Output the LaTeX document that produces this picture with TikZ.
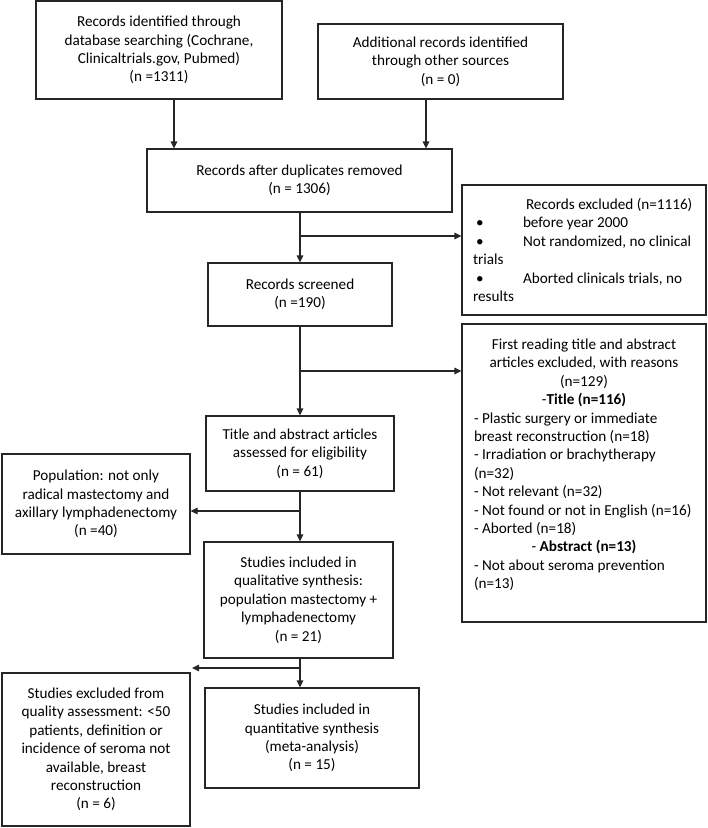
\documentclass[tikz,border=0pt]{standalone}
\usepackage{fontspec}
\setmainfont{Carlito}
\usetikzlibrary{arrows.meta,calc}
\begin{document}
\begin{tikzpicture}[x=1pt,y=-1pt,
  box/.style={draw=black!85, line width=1.1pt, rectangle, inner sep=0pt,
    font=\fontsize{15.2pt}{18.4pt}\selectfont, text=black},
  cbox/.style={box, align=center},
  lbox/.style={box, align=left},
  arr/.style={draw=black!85, line width=1.1pt, -{Triangle[length=7pt,width=6.5pt]}},
  ln/.style={draw=black!85, line width=1.1pt}]
\useasboundingbox (0,0) rectangle (708,828);

\node[cbox, minimum width=246pt, minimum height=98pt] (B1) at (159,50)
  {Records identified through\\database searching (Cochrane,\\Clinicaltrials.gov, Pubmed)\\(n =1311)};
\node[cbox, minimum width=245pt, minimum height=75pt] (B2) at (440.5,61.5)
  {Additional records identified\\through other sources\\(n = 0)};
\node[cbox, minimum width=305pt, minimum height=63pt] (B3) at (299.5,180.5)
  {Records after duplicates removed\\(n = 1306)};
\node[lbox, minimum width=244pt, minimum height=130pt] (B4) at (584,250)
  {\makebox[222pt][l]{\hspace*{53pt}Records excluded (n=1116)}\\
   \makebox[222pt][l]{\makebox[50pt][l]{\hspace*{3pt}•}before year 2000}\\
   \makebox[222pt][l]{\makebox[50pt][l]{\hspace*{3pt}•}Not randomized, no clinical}\\
   \makebox[222pt][l]{trials}\\
   \makebox[222pt][l]{\makebox[50pt][l]{\hspace*{3pt}•}Aborted clinicals trials, no}\\
   \makebox[222pt][l]{results}};
\node[cbox, minimum width=184pt, minimum height=63pt] (B5) at (300,294.5)
  {Records screened\\(n =190)};
\node[cbox, minimum width=188pt, minimum height=75pt] (B6) at (300,453.5)
  {Title and abstract articles\\assessed for eligibility\\(n = 61)};
\node[lbox, minimum width=244pt, minimum height=298pt] (B7) at (584,473)
  {\makebox[220pt][c]{First reading title and abstract}\\
   \makebox[220pt][c]{articles excluded, with reasons}\\
   \makebox[220pt][c]{(n=129)}\\
   \makebox[220pt][c]{-\textbf{Title (n=116)}}\\
   \makebox[220pt][l]{- Plastic surgery or immediate}\\
   \makebox[220pt][l]{breast reconstruction (n=18)}\\
   \makebox[220pt][l]{- Irradiation or brachytherapy}\\
   \makebox[220pt][l]{(n=32)}\\
   \makebox[220pt][l]{- Not relevant (n=32)}\\
   \makebox[220pt][l]{- Not found or not in English (n=16)}\\
   \makebox[220pt][l]{- Aborted (n=18)}\\
   \makebox[220pt][c]{- \textbf{Abstract (n=13)}}\\
   \makebox[220pt][l]{- Not about seroma prevention}\\
   \makebox[220pt][l]{(n=13)}\\
   \mbox{}};
\node[cbox, minimum width=188pt, minimum height=100pt] (B8) at (96,504)
  {Population: not only\\radical mastectomy and\\axillary lymphadenectomy\\(n =40)};
\node[cbox, minimum width=189pt, minimum height=116pt] (B9) at (298.5,600)
  {Studies included in\\qualitative synthesis:\\population mastectomy +\\lymphadenectomy\\(n = 21)};
\node[cbox, minimum width=214pt, minimum height=100pt] (B10) at (312,738)
  {Studies included in\\quantitative synthesis\\(meta-analysis)\\(n = 15)};
\node[cbox, minimum width=188pt, minimum height=153pt] (B11) at (96,749.5)
  {Studies excluded from\\quality assessment: <50\\patients, definition or\\incidence of seroma not\\available, breast\\reconstruction\\(n = 6)};

\coordinate (x1) at (174,0);
\coordinate (x2) at (426,0);
\coordinate (xc) at (300,0);
\coordinate (j1) at (300,236);
\coordinate (j2) at (300,371);
\coordinate (j3) at (300,511);
\coordinate (j4) at (300,668);
\coordinate (e4) at (192,668);

\draw[arr] (B1.south -| x1) -- (B3.north -| x1);
\draw[arr] (B2.south -| x2) -- (B3.north -| x2);
\draw[arr] (B3.south -| xc) -- (B5.north -| xc);
\draw[arr] (j1) -- (j1 -| B4.west);
\draw[arr] (B5.south -| xc) -- (B6.north -| xc);
\draw[arr] (j2) -- (j2 -| B7.west);
\draw[arr] (B6.south -| xc) -- (B9.north -| xc);
\draw[arr] (j3) -- (j3 -| B8.east);
\draw[arr] (B9.south -| xc) -- (B10.north -| xc);
\draw[arr] (j4) -- (e4);
\end{tikzpicture}
\end{document}
